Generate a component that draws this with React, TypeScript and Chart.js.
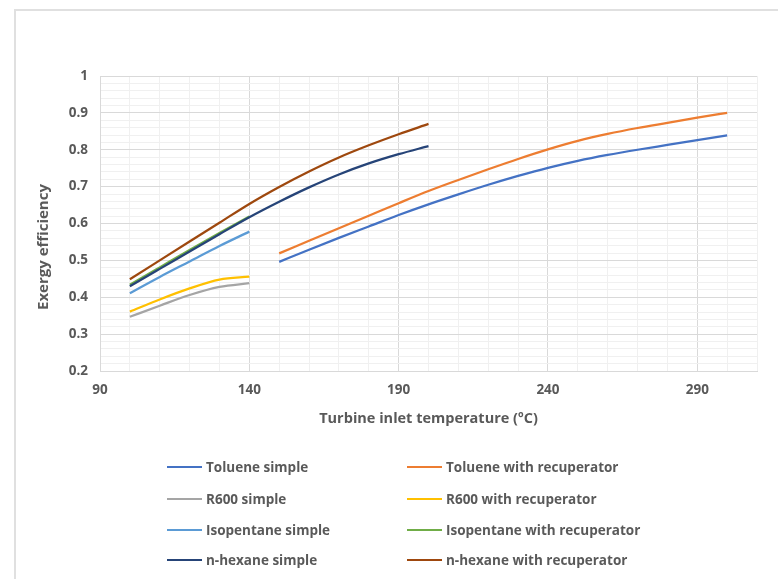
import React, { useEffect, useRef } from "react";
import { Chart, registerables } from "chart.js";

Chart.register(...registerables);

// ---- data ----
const lowTemps = [100, 110, 120, 130, 140];
const hexaneTemps = [100, 110, 120, 130, 140, 150, 160, 170, 180, 190, 200];
const tolueneTemps = [150, 160, 170, 180, 190, 200, 210, 220, 230, 240, 250, 260, 270, 280, 290, 300];

const tolueneSimple = [0.496, 0.529, 0.561, 0.592, 0.623, 0.652, 0.679, 0.705, 0.729, 0.751, 0.770, 0.786, 0.800, 0.813, 0.826, 0.839];
const tolueneRecup = [0.519, 0.553, 0.587, 0.621, 0.655, 0.688, 0.718, 0.747, 0.775, 0.801, 0.824, 0.843, 0.859, 0.873, 0.887, 0.900];
const r600Simple = [0.347, 0.377, 0.406, 0.428, 0.438];
const r600Recup = [0.361, 0.394, 0.424, 0.448, 0.456];
const isopentaneSimple = [0.411, 0.455, 0.497, 0.539, 0.578];
const isopentaneRecup = [0.434, 0.481, 0.528, 0.574, 0.619];
const hexaneSimple = [0.430, 0.477, 0.524, 0.571, 0.617, 0.659, 0.698, 0.733, 0.763, 0.788, 0.810];
const hexaneRecup = [0.449, 0.500, 0.551, 0.602, 0.653, 0.699, 0.741, 0.779, 0.812, 0.842, 0.870];

const seriesLabels = [
  "Toluene simple",
  "Toluene with recuperator",
  "R600 simple",
  "R600 with recuperator",
  "Isopentane simple",
  "Isopentane with recuperator",
  "n-hexane simple",
  "n-hexane with recuperator",
];
const seriesColors = ["#4472C4", "#ED7D31", "#A5A5A5", "#FFC000", "#5B9BD5", "#70AD47", "#264478", "#9E480E"];
const seriesX = [tolueneTemps, tolueneTemps, lowTemps, lowTemps, lowTemps, lowTemps, hexaneTemps, hexaneTemps];
const seriesY = [tolueneSimple, tolueneRecup, r600Simple, r600Recup, isopentaneSimple, isopentaneRecup, hexaneSimple, hexaneRecup];

const xMin = 90;
const xMax = 310;
const xMajorStep = 50;
const xMinorStep = 10;
const yMin = 0.2;
const yMax = 1;
const yMinorStep = 0.02;

const xTitle = "Turbine inlet temperature (\u00BAC)";
const yTitle = "Exergy efficiency";

const FONT = "'Open Sans', Lato, sans-serif";
const TEXT = "#595959";

export default function App() {
  const canvasRef = useRef<HTMLCanvasElement | null>(null);

  useEffect(() => {
    if (!canvasRef.current) return;
    const datasets = seriesLabels.map((label, i) => ({
      label,
      data: seriesX[i].map((x, j) => ({ x, y: seriesY[i][j] })),
      borderColor: seriesColors[i],
      backgroundColor: seriesColors[i],
      borderWidth: 2.25,
      pointRadius: 0,
      showLine: true,
      fill: false,
      cubicInterpolationMode: "monotone" as const,
      order: seriesLabels.length - i,
    }));
    const isXMajor = (v: number) => Math.round(v - xMin) % xMajorStep === 0;
    const isYMajor = (v: number) => Math.round(v * 100) % 10 === 0;
    const chart = new Chart(canvasRef.current, {
      type: "scatter",
      data: { datasets },
      options: {
        animation: false,
        responsive: false,
        maintainAspectRatio: false,
        layout: { padding: { top: 76, right: 21, bottom: 148, left: 0 } },
        plugins: { legend: { display: false }, tooltip: { enabled: false } },
        scales: {
          x: {
            type: "linear",
            min: xMin,
            max: xMax,
            afterFit: (s: any) => {
              s.height = 60;
            },
            ticks: {
              stepSize: xMinorStep,
              autoSkip: false,
              maxRotation: 0,
              padding: 11,
              color: TEXT,
              font: { family: FONT, size: 13.5, weight: "bold" },
              callback: (v: any) => (isXMajor(Number(v)) ? String(v) : ""),
            },
            grid: {
              drawTicks: false,
              lineWidth: 1,
              color: (ctx: any) => (ctx.tick && isXMajor(ctx.tick.value) ? "#D9D9D9" : "#F0F0F0"),
            },
            border: { display: true, color: "#D9D9D9" },
            title: {
              display: true,
              text: xTitle,
              color: TEXT,
              font: { family: FONT, size: 14.5, weight: "bold" },
              padding: { top: 4, bottom: 3 },
            },
          },
          y: {
            type: "linear",
            min: yMin,
            max: yMax,
            afterFit: (s: any) => {
              s.width = 100;
            },
            ticks: {
              stepSize: yMinorStep,
              autoSkip: false,
              padding: 12,
              color: TEXT,
              font: { family: FONT, size: 13.5, weight: "bold" },
              callback: (v: any) => {
                const r = Math.round(Number(v) * 100);
                return r % 10 === 0 ? String(r / 100) : "";
              },
            },
            grid: {
              drawTicks: false,
              lineWidth: 1,
              color: (ctx: any) => (ctx.tick && isYMajor(ctx.tick.value) ? "#D9D9D9" : "#F0F0F0"),
            },
            border: { display: true, color: "#D9D9D9" },
          },
        },
      },
    });
    return () => chart.destroy();
  }, []);

  const legendRows = [0, 1, 2, 3];
  const rowY = [467, 499, 530, 560];
  const colX = [167, 407];

  return (
    <div style={{ position: "fixed", left: 0, top: 0, width: 778, height: 579, background: "#fff", overflow: "hidden" }}>
      <div
        style={{
          position: "absolute",
          left: 14,
          top: 9,
          width: 800,
          height: 600,
          borderLeft: "2px solid #E0E0E0",
          borderTop: "2px solid #E0E0E0",
        }}
      />
      <canvas ref={canvasRef} width={778} height={579} style={{ position: "absolute", left: 0, top: 0 }} />
      <div
        style={{
          position: "absolute",
          left: 42,
          top: 247,
          transform: "translate(-50%, -50%) rotate(-90deg)",
          whiteSpace: "nowrap",
          fontFamily: FONT,
          fontWeight: "bold",
          fontSize: 15,
          color: TEXT,
        }}
      >
        {yTitle}
      </div>
      {legendRows.map((r) =>
        [0, 1].map((c) => {
          const i = r * 2 + c;
          return (
            <div
              key={i}
              style={{
                position: "absolute",
                left: colX[c],
                top: rowY[r] - 10,
                height: 20,
                display: "flex",
                alignItems: "center",
                whiteSpace: "nowrap",
                fontFamily: FONT,
                fontWeight: "bold",
                fontSize: 13.5,
                color: TEXT,
              }}
            >
              <span style={{ display: "inline-block", width: 35, height: 2.5, background: seriesColors[i], marginRight: 4 }} />
              <span>{seriesLabels[i]}</span>
            </div>
          );
        })
      )}
    </div>
  );
}
